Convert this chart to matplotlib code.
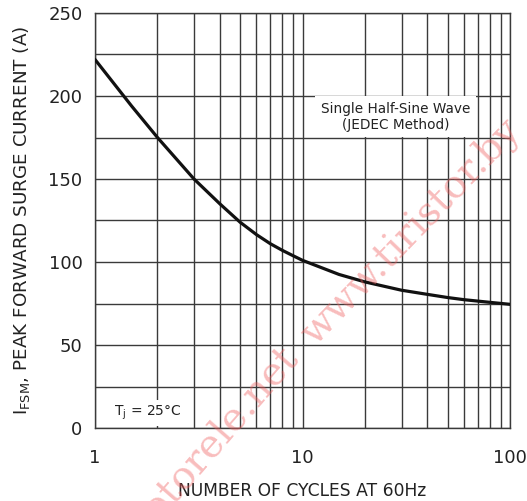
import matplotlib
matplotlib.use("Agg")
import matplotlib.pyplot as plt
from matplotlib.ticker import FixedLocator, NullFormatter, FixedFormatter

plt.rcParams['font.family'] = ['DejaVu Sans']
plt.rcParams['mathtext.fontset'] = 'dejavusans'

# Data
cycles = [1, 1.5, 2, 3, 4, 5, 6, 7, 8, 9, 10, 15, 20, 30, 40, 50, 60, 80, 100]
surge_current = [222, 194, 175, 150, 135, 124, 116.5, 111, 107, 103.8, 101, 92.5,
                 88, 83, 80.5, 78.6, 77.3, 75.7, 74.5]

x_ticks = [1, 10, 100]
x_tick_labels = ["1", "10", "100"]
y_ticks = [0, 50, 100, 150, 200, 250]
y_tick_labels = ["0", "50", "100", "150", "200", "250"]

fig = plt.figure(figsize=(5.27, 5.01), dpi=100)
ax = fig.add_axes([95/527, 1 - 428/501, (510-95)/527, (428-13)/501])

grid_color = '#3a3a3a'
ax.set_xscale('log')
ax.set_xlim(1, 100)
ax.set_ylim(0, 250)

minor_x = [m * d for d in (1, 10) for m in range(2, 10)]
ax.xaxis.set_major_locator(FixedLocator(x_ticks))
ax.xaxis.set_major_formatter(FixedFormatter(x_tick_labels))
ax.xaxis.set_minor_locator(FixedLocator(minor_x))
ax.xaxis.set_minor_formatter(NullFormatter())
ax.yaxis.set_major_locator(FixedLocator(y_ticks))
ax.yaxis.set_major_formatter(FixedFormatter(y_tick_labels))
ax.yaxis.set_minor_locator(FixedLocator([25, 75, 125, 175, 225]))

ax.grid(True, which='both', color=grid_color, linewidth=1.0)
ax.set_axisbelow(True)
for s in ax.spines.values():
    s.set_color(grid_color)
    s.set_linewidth(1.0)

ax.tick_params(which='both', length=0)
ax.tick_params(axis='x', pad=15, labelsize=13, colors='#222222')
ax.tick_params(axis='y', pad=9, labelsize=13, colors='#222222')

ax.plot(cycles, surge_current, color='#111111', linewidth=2.3,
        solid_capstyle='round', solid_joinstyle='round', zorder=3)

ax.set_xlabel('NUMBER OF CYCLES AT 60Hz', fontsize=12.3, color='#222222', labelpad=11)
ax.set_ylabel(r'I$_{\mathregular{FSM}}$, PEAK FORWARD SURGE CURRENT (A)', fontsize=13.2,
              color='#222222', labelpad=12)

ax.text(28, 187.5, 'Single Half-Sine Wave\n(JEDEC Method)', ha='center', va='center',
        fontsize=9.8, color='#222222', linespacing=1.15, zorder=4,
        bbox=dict(boxstyle='square,pad=0.42', facecolor='white', edgecolor='none'))

ax.text(1.8, 9, r'T$_{\mathregular{j}}$ = 25°C', ha='center', va='center',
        fontsize=10, color='#222222', zorder=4,
        bbox=dict(boxstyle='square,pad=0.25', facecolor='white', edgecolor='none'))

# Watermarks
fig.text(308/527, 1 - 340/501, 'www.tiristor.by', rotation=46, rotation_mode='anchor',
         ha='left', va='center', fontsize=28, family='DejaVu Serif',
         color='#f06060', alpha=0.42, zorder=10)
fig.text(292/527, 1 - 352/501, 'www.motorele.net', rotation=49, rotation_mode='anchor',
         ha='right', va='center', fontsize=28, family='DejaVu Serif',
         color='#f06060', alpha=0.42, zorder=10)

fig.savefig('out.png', dpi=100)
